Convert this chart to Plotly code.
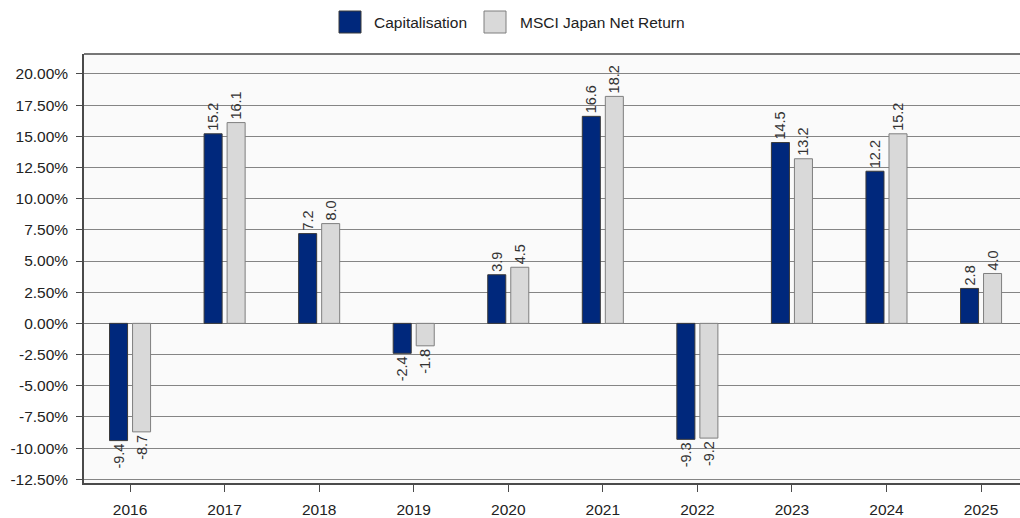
import plotly.graph_objects as go

years = ["2016", "2017", "2018", "2019", "2020", "2021", "2022", "2023", "2024", "2025"]
capitalisation = [-9.4, 15.2, 7.2, -2.4, 3.9, 16.6, -9.3, 14.5, 12.2, 2.8]
msci_japan = [-8.7, 16.1, 8.0, -1.8, 4.5, 18.2, -9.2, 13.2, 15.2, 4.0]
series_names = ["Capitalisation", "MSCI Japan Net Return"]
y_ticks = [-12.5, -10, -7.5, -5, -2.5, 0, 2.5, 5, 7.5, 10, 12.5, 15, 17.5, 20]

BLUE = "#00287C"
GREY = "#D9D9D9"
FONT = "Liberation Sans, Arial, sans-serif"

fig = go.Figure()
for name, vals, color, edge in [
    (series_names[0], capitalisation, BLUE, "#3a3a3a"),
    (series_names[1], msci_japan, GREY, "#7f7f7f"),
]:
    fig.add_trace(go.Bar(
        x=list(range(len(years))), y=vals, name=name,
        marker=dict(color=color, line=dict(color=edge, width=1)),
        text=[f"{v:.1f}" for v in vals],
        textposition="outside", textangle=-90, constraintext="none",
        textfont=dict(family=FONT, size=14.5, color="#333333"),
        cliponaxis=False, showlegend=False,
    ))

# Plot-area geometry in pixels, used for the frame and the legend placement
L, T, W, H = 84, 54, 936, 429
def px(x):
    return (x - L) / W
def py(y):
    return (T + H - y) / H

# Legend drawn as large square swatches with labels
legend_items = [(339, 372, BLUE, "#3a3a3a", series_names[0]),
                (484, 518, GREY, "#7f7f7f", series_names[1])]
for sx, tx, color, edge, label in legend_items:
    fig.add_shape(type="rect", xref="paper", yref="paper",
                  x0=px(sx), x1=px(sx + 22), y0=py(33), y1=py(11),
                  fillcolor=color, line=dict(color=edge, width=1))
    fig.add_annotation(xref="paper", yref="paper", x=px(tx), y=py(22),
                       text=label, showarrow=False, xanchor="left", yanchor="middle",
                       font=dict(family=FONT, size=15.5, color="#222222"))

# Top border of the plotting frame
fig.add_shape(type="line", xref="paper", yref="paper", x0=0, x1=1, y0=1, y1=1,
              line=dict(color="#4a4a4a", width=1.5))

fig.update_layout(
    width=1020, height=518,
    margin=dict(l=L, r=0, t=T, b=518 - T - H),
    paper_bgcolor="white", plot_bgcolor="#FAFAFA",
    barmode="group", bargap=0.513, bargroupgap=0.217,
    font=dict(family=FONT, size=15, color="#222222"),
)
fig.update_xaxes(
    range=[-0.487, 9.412], tickmode="array",
    tickvals=list(range(len(years))), ticktext=years,
    showgrid=False, zeroline=False,
    showline=True, linecolor="#4a4a4a", linewidth=1.5,
    ticks="outside", ticklen=7, tickcolor="#4a4a4a", ticklabelstandoff=5,
    tickfont=dict(family=FONT, size=15.5, color="#222222"),
)
fig.update_yaxes(
    range=[-12.8, 21.6], tickmode="array", tickvals=y_ticks,
    ticktext=[f"{v:.2f}%" for v in y_ticks],
    showgrid=True, gridcolor="#858585", gridwidth=1,
    zeroline=True, zerolinecolor="#7a7a7a", zerolinewidth=1,
    showline=True, linecolor="#4a4a4a", linewidth=1.5,
    ticks="outside", ticklen=6, tickcolor="#4a4a4a", ticklabelstandoff=5,
    tickfont=dict(family=FONT, size=15.5, color="#222222"),
)

fig.write_html("out.html")
